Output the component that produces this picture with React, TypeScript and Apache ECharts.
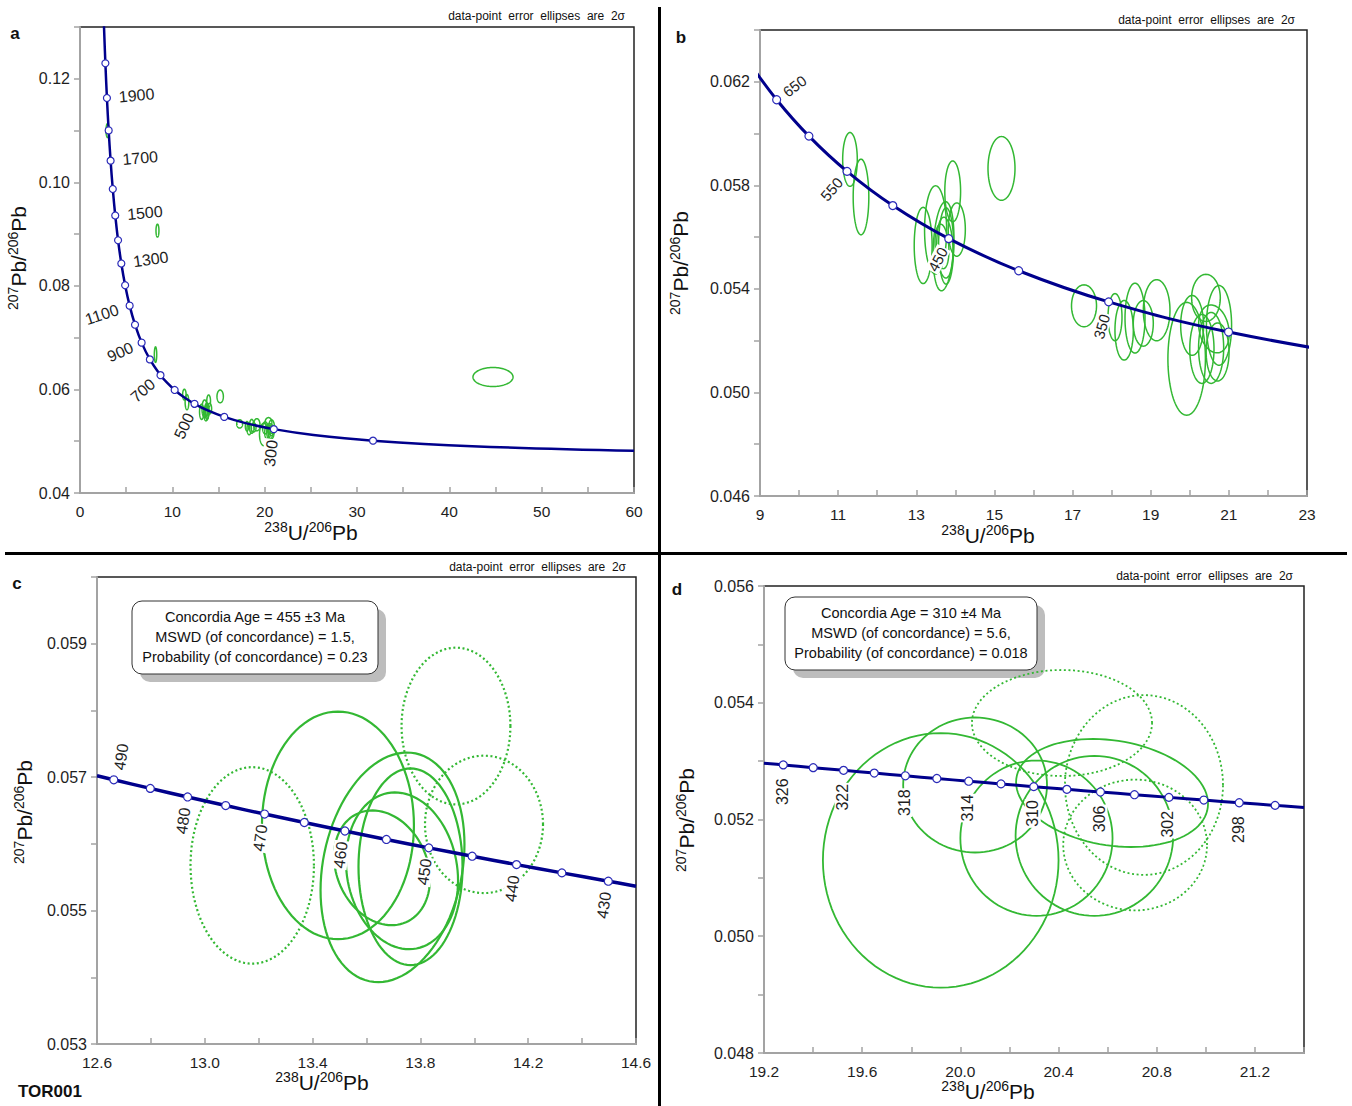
import React, { useEffect, useRef } from 'react';
import * as echarts from 'echarts';

const FONT = "'Liberation Sans', Arial, Helvetica, sans-serif";
const GREEN = '#33b833';
const BLUE = '#00008c';
const MARK = '#2a2ab8';
const TEXT = '#1e1e1e';

// ---- Concordia points: [age (Ma), 238U/206Pb, 207Pb/206Pb] ----
const concordiaA: number[][] = [
  [106.6, 60.0, 0.048148], [150, 42.478, 0.049045], [200, 31.735, 0.050109], [250, 25.289, 0.051204],
  [300, 20.992, 0.052333], [350, 17.923, 0.053499], [400, 15.621, 0.0547], [450, 13.831, 0.05594],
  [500, 12.399, 0.057218], [550, 11.228, 0.058539], [600, 10.252, 0.059901], [650, 9.426, 0.061306],
  [700, 8.718, 0.062757], [800, 7.568, 0.065799], [900, 6.674, 0.069042], [1000, 5.959, 0.0725],
  [1100, 5.375, 0.076187], [1200, 4.888, 0.080122], [1300, 4.476, 0.084322], [1400, 4.123, 0.088807],
  [1500, 3.817, 0.093597], [1600, 3.55, 0.098717], [1700, 3.314, 0.104187], [1800, 3.105, 0.110034],
  [1900, 2.917, 0.116293], [2000, 2.749, 0.122986], [2100, 2.597, 0.130151],
];
const concordiaB: number[][] = [
  [700, 8.718, 0.062757], [650, 9.426, 0.061306], [600, 10.252, 0.059901], [550, 11.228, 0.058539],
  [500, 12.399, 0.057218], [450, 13.831, 0.05594], [400, 15.621, 0.0547], [350, 17.923, 0.053499],
  [300, 20.992, 0.052333], [250, 25.289, 0.051204],
];
const concordiaC: number[][] = [
  [492.3, 12.6, 0.05702], [490, 12.6623, 0.05696], [485, 12.7978, 0.056831], [480, 12.9362, 0.056703],
  [475, 13.0775, 0.056574], [470, 13.2218, 0.056447], [465, 13.3693, 0.05632], [460, 13.5199, 0.056193],
  [455, 13.6738, 0.056066], [450, 13.8312, 0.05594], [445, 13.9921, 0.055815], [440, 14.1566, 0.055689],
  [435, 14.325, 0.055565], [430, 14.4973, 0.05544], [427.0, 14.6, 0.055366],
];
const concordiaD: number[][] = [
  [327.3, 19.2, 0.052965], [326, 19.2785, 0.052935], [324, 19.4005, 0.052888], [322, 19.5241, 0.052842],
  [320, 19.6492, 0.052795], [318, 19.7759, 0.052749], [316, 19.9041, 0.052702], [314, 20.034, 0.052656],
  [312, 20.1656, 0.05261], [310, 20.2989, 0.052563], [308, 20.4339, 0.052517], [306, 20.5707, 0.052471],
  [304, 20.7093, 0.052425], [302, 20.8497, 0.052379], [300, 20.9919, 0.052333], [298, 21.1361, 0.052287],
  [296, 21.2823, 0.052242], [294.4, 21.4, 0.052205],
];

// ---- Marked and labelled ages ----
const markedA = [200, 300, 400, 500, 600, 700, 800, 900, 1000, 1100, 1200, 1300, 1400, 1500, 1600, 1700, 1800, 1900, 2000];
const labelledA = [1900, 1700, 1500, 1300, 1100, 900, 700, 500, 300];
const markedB = [650, 600, 550, 500, 450, 400, 350, 300];
const labelledB = [650, 550, 450, 350];
const markedC = [490, 485, 480, 475, 470, 465, 460, 455, 450, 445, 440, 435, 430];
const labelledC = [490, 480, 470, 460, 450, 440, 430];
const markedD = [326, 324, 322, 320, 318, 316, 314, 312, 310, 308, 306, 304, 302, 300, 298, 296];
const labelledD = [326, 322, 318, 314, 310, 306, 302, 298];

// ---- Error ellipses: [centre 238U/206Pb, centre 207Pb/206Pb, half-width x, half-height y, correlation, excluded] ----
const ellipses450: number[][] = [
  [13.176, 0.055677, 0.229, 0.001473, 0, 1],
  [13.932, 0.057766, 0.202, 0.001175, 0, 1],
  [14.036, 0.056292, 0.219, 0.00103, 0, 1],
  [13.494, 0.056277, 0.282, 0.001706, 0, 0],
  [13.6965, 0.055648, 0.267, 0.001721, 0.2, 0],
  [13.7633, 0.055656, 0.193, 0.001474, 0, 0],
  [13.7317, 0.055596, 0.208, 0.001175, -0.125, 0],
  [13.6575, 0.055641, 0.178, 0.00086, -0.2, 0],
];
const ellipses300: number[][] = [
  [19.92, 0.0513, 0.48, 0.00218, 0, 0],
  [20.06, 0.052591, 0.293, 0.001156, 0, 0],
  [20.31, 0.05168, 0.31, 0.00133, 0, 0],
  [20.546, 0.05172, 0.321, 0.00137, 0, 0],
  [20.618, 0.052454, 0.391, 0.000925, -0.2, 0],
  [20.414, 0.053653, 0.367, 0.000908, 0, 1],
  [20.748, 0.052591, 0.322, 0.00154, 0, 1],
  [20.712, 0.051563, 0.293, 0.00112, 0, 1],
];
const ellipses350: number[][] = [
  [17.293, 0.053346, 0.32, 0.00081, 0, 0],
  [18.086, 0.052908, 0.179, 0.00091, 0, 0],
  [18.32, 0.0524, 0.235, 0.00115, 0, 0],
  [18.598, 0.052869, 0.256, 0.00135, 0, 0],
  [18.81, 0.052669, 0.256, 0.00088, 0, 0],
  [19.152, 0.053177, 0.341, 0.00118, 0, 0],
];
const ellipsesOther: number[][] = [
  [11.303, 0.059, 0.187, 0.00104, 0, 0],
  [11.585, 0.05755, 0.2, 0.00146, 0, 0],
  [15.181, 0.058654, 0.3455, 0.00123, 0, 0],
  [2.98, 0.11, 0.16, 0.00135, 0, 0],
  [8.39, 0.09067, 0.16, 0.00125, 0, 0],
  [8.18, 0.06673, 0.13, 0.0015, 0, 0],
  [44.73, 0.0624, 2.17, 0.00183, 0, 0],
];

// ---- Axis ticks and tick labels ----
const ticksAx = [0, 5, 10, 15, 20, 25, 30, 35, 40, 45, 50, 55, 60];
const labelsAx = [0, 10, 20, 30, 40, 50, 60];
const ticksAy = [0.04, 0.05, 0.06, 0.07, 0.08, 0.09, 0.1, 0.11, 0.12, 0.13];
const labelsAy = [0.04, 0.06, 0.08, 0.1, 0.12];
const ticksBx = [9, 10, 11, 12, 13, 14, 15, 16, 17, 18, 19, 20, 21, 22, 23];
const labelsBx = [9, 11, 13, 15, 17, 19, 21, 23];
const ticksBy = [0.046, 0.048, 0.05, 0.052, 0.054, 0.056, 0.058, 0.06, 0.062, 0.064];
const labelsBy = [0.046, 0.05, 0.054, 0.058, 0.062];
const ticksCx = [12.6, 12.8, 13.0, 13.2, 13.4, 13.6, 13.8, 14.0, 14.2, 14.4, 14.6];
const labelsCx = [12.6, 13.0, 13.4, 13.8, 14.2, 14.6];
const ticksCy = [0.053, 0.054, 0.055, 0.056, 0.057, 0.058, 0.059, 0.06];
const labelsCy = [0.053, 0.055, 0.057, 0.059];
const ticksDx = [19.2, 19.4, 19.6, 19.8, 20.0, 20.2, 20.4, 20.6, 20.8, 21.0, 21.2, 21.4];
const labelsDx = [19.2, 19.6, 20.0, 20.4, 20.8, 21.2];
const ticksDy = [0.048, 0.049, 0.05, 0.051, 0.052, 0.053, 0.054, 0.055, 0.056];
const labelsDy = [0.048, 0.05, 0.052, 0.054, 0.056];

// label placement styles: age -> [rotate deg, distance along text (+ right / - left), perpendicular offset]
const labelStyleA: Record<number, number[]> = {
  1900: [5, 11, 0], 1700: [5, 11, 0], 1500: [5, 11, 0], 1300: [8, 11, 0],
  1100: [18, -11, 0], 900: [24, -9, 0], 700: [41, -9, 0], 500: [65, -10, 0], 300: [83, -10, 0],
};
const labelStyleB: Record<number, number[]> = { 650: [37, 9, 0], 550: [49, -10, 0], 450: [62, -10, 0], 350: [74, -12, 0] };
const labelStyleC: Record<number, number[]> = {
  490: [82, 9.5, 4], 480: [82, -10, -1], 470: [82, -10, -1], 460: [82, -10, -1], 450: [82, -10, -1], 440: [82, -10, -1], 430: [82, -10, -1],
};
const labelStyleD: Record<number, number[]> = {
  326: [90, -12.5, -1], 322: [90, -12.5, -1], 318: [90, -12.5, -1], 314: [90, -12.5, -1],
  310: [90, -12.5, -1], 306: [90, -12.5, -1], 302: [90, -12.5, -1], 298: [90, -12.5, -1],
};

const allEllipses = [...ellipses450, ...ellipses300, ...ellipses350, ...ellipsesOther];

function ellipseRenderer(lineWidth: number, showDotted: boolean) {
  return (params: any, api: any) => {
    const cx = api.value(0), cy = api.value(1), sx = api.value(2), sy = api.value(3), rho = api.value(4);
    const dotted = showDotted && api.value(5) === 1;
    const k = Math.sqrt(Math.max(0, 1 - rho * rho));
    const pts: number[][] = [];
    const n = 96;
    for (let i = 0; i < n; i++) {
      const t = (i / n) * Math.PI * 2;
      pts.push(api.coord([cx + sx * Math.cos(t), cy + sy * (rho * Math.cos(t) + k * Math.sin(t))]));
    }
    return {
      type: 'polygon',
      shape: { points: pts },
      silent: true,
      style: { fill: 'none', stroke: GREEN, lineWidth, lineDash: dotted ? [2, 2.6] : null },
    };
  };
}

function markerItems(curve: number[][], marked: number[], labelled: number[], styles: Record<number, number[]>, fontSize: number) {
  return curve
    .filter((p) => marked.indexOf(p[0]) >= 0)
    .map((p) => {
      const age = p[0];
      const st = styles[age];
      if (labelled.indexOf(age) >= 0 && st) {
        return {
          value: [p[1], p[2]],
          label: {
            show: true,
            position: 'inside',
            formatter: String(age),
            rotate: st[0],
            align: st[1] >= 0 ? 'left' : 'right',
            verticalAlign: 'middle',
            offset: [st[1], st[2]],
            color: TEXT,
            fontSize,
            fontFamily: FONT,
            backgroundColor: '#ffffff',
            padding: [0, 1],
          },
        };
      }
      return { value: [p[1], p[2]], label: { show: false } };
    });
}

function xAxis(gridIndex: number, min: number, max: number, ticks: number[], labels: number[], dec: number) {
  return {
    type: 'value', gridIndex, min, max,
    axisLine: { show: true, onZero: false, lineStyle: { color: '#a3a3a3', width: 2 } },
    axisTick: { show: true, inside: true, length: 6, customValues: ticks, lineStyle: { color: '#a3a3a3', width: 1.5 } },
    axisLabel: { show: true, customValues: labels, margin: 10, fontSize: 15.5, fontFamily: FONT, color: TEXT, formatter: (v: number) => v.toFixed(dec) },
    splitLine: { show: false },
  };
}
function yAxis(gridIndex: number, min: number, max: number, ticks: number[], labels: number[], dec: number) {
  return {
    type: 'value', gridIndex, min, max,
    axisLine: { show: true, onZero: false, lineStyle: { color: '#a3a3a3', width: 2 } },
    axisTick: { show: true, inside: false, length: 6, customValues: ticks, lineStyle: { color: '#a3a3a3', width: 1.5 } },
    axisLabel: { show: true, customValues: labels, margin: 10, fontSize: 16, fontFamily: FONT, color: TEXT, formatter: (v: number) => v.toFixed(dec) },
    splitLine: { show: false },
  };
}

function axisName(kind: 'x' | 'y', x: number, y: number) {
  const text = kind === 'x' ? '{s|238}{n|U/}{s|206}{n|Pb}' : '{s|207}{n|Pb/}{s|206}{n|Pb}';
  return {
    type: 'text', x, y, rotation: kind === 'y' ? Math.PI / 2 : 0, silent: true,
    style: {
      text, align: 'center', verticalAlign: 'middle',
      rich: {
        s: { fontSize: 14, fontFamily: FONT, fill: '#111', verticalAlign: 'top' },
        n: { fontSize: 21, fontFamily: FONT, fill: '#111', lineHeight: 24 },
      },
    },
  };
}

function textEl(text: string, x: number, y: number, size: number, align: string, bold = false) {
  return {
    type: 'text', x, y, silent: true,
    style: { text, fill: '#111', fontSize: size, fontFamily: FONT, fontWeight: bold ? 'bold' : 'normal', align, verticalAlign: 'middle' },
  };
}

function infoBox(x: number, y: number, w: number, h: number, lines: string[]) {
  const cx = x + w / 2;
  return [
    { type: 'rect', silent: true, shape: { x: x + 8, y: y + 8, width: w, height: h, r: 10 }, style: { fill: '#bdbdbd' } },
    { type: 'rect', silent: true, shape: { x, y, width: w, height: h, r: 10 }, style: { fill: '#ffffff', stroke: '#333', lineWidth: 1 } },
    ...lines.map((t, i) => textEl(t, cx, y + 16 + i * 20, 14.5, 'center')),
  ];
}

export default function App() {
  const ref = useRef<HTMLDivElement>(null);
  useEffect(() => {
    document.body.style.margin = '0';
    if (!ref.current) return;
    const chart = echarts.init(ref.current, undefined, { renderer: 'svg' });
    const panels = [
      { curve: concordiaA, ell: allEllipses, marked: markedA, labelled: labelledA, st: labelStyleA, lw: 1.5, dotted: false, cw: 2.5, ms: 7, fs: 16 },
      { curve: concordiaB, ell: allEllipses, marked: markedB, labelled: labelledB, st: labelStyleB, lw: 1.5, dotted: false, cw: 3, ms: 8, fs: 15 },
      { curve: concordiaC, ell: ellipses450, marked: markedC, labelled: labelledC, st: labelStyleC, lw: 2.2, dotted: true, cw: 3.5, ms: 8, fs: 16 },
      { curve: concordiaD, ell: ellipses300, marked: markedD, labelled: labelledD, st: labelStyleD, lw: 1.8, dotted: true, cw: 3, ms: 8, fs: 16 },
    ];
    const series: any[] = [];
    panels.forEach((p, i) => {
      series.push({
        type: 'custom', xAxisIndex: i, yAxisIndex: i, clip: true, z: 1, silent: true,
        renderItem: ellipseRenderer(p.lw, p.dotted), data: p.ell, encode: { x: 0, y: 1 },
      });
      series.push({
        type: 'line', xAxisIndex: i, yAxisIndex: i, clip: true, z: 3, silent: true,
        data: p.curve.map((c) => [c[1], c[2]]), smooth: 0.4, symbol: 'none',
        lineStyle: { color: BLUE, width: p.cw },
      });
      series.push({
        type: 'scatter', xAxisIndex: i, yAxisIndex: i, z: 4, silent: true,
        symbol: 'circle', symbolSize: p.ms,
        itemStyle: { color: '#ffffff', borderColor: MARK, borderWidth: 1.2, opacity: 1 },
        data: markerItems(p.curve, p.marked, p.labelled, p.st, p.fs),
      });
    });

    const grid = (left: number, top: number, width: number, height: number) => ({
      left, top, width, height, show: true, borderColor: '#222', borderWidth: 1.5, backgroundColor: 'transparent',
    });

    const option: any = {
      animation: false,
      backgroundColor: '#ffffff',
      grid: [grid(80, 27, 554, 466), grid(760, 30, 547, 466), grid(97, 577, 539, 467), grid(764, 586, 540, 467)],
      xAxis: [
        xAxis(0, 0, 60, ticksAx, labelsAx, 0),
        xAxis(1, 9, 23, ticksBx, labelsBx, 0),
        xAxis(2, 12.6, 14.6, ticksCx, labelsCx, 1),
        xAxis(3, 19.2, 21.4, ticksDx, labelsDx, 1),
      ],
      yAxis: [
        yAxis(0, 0.04, 0.13, ticksAy, labelsAy, 2),
        yAxis(1, 0.046, 0.064, ticksBy, labelsBy, 3),
        yAxis(2, 0.053, 0.06, ticksCy, labelsCy, 3),
        yAxis(3, 0.048, 0.056, ticksDy, labelsDy, 3),
      ],
      series,
      graphic: [
        { type: 'rect', silent: true, shape: { x: 658, y: 7, width: 3, height: 1099 }, style: { fill: '#000' } },
        { type: 'rect', silent: true, shape: { x: 5, y: 552, width: 1342, height: 3 }, style: { fill: '#000' } },
        textEl('a', 15, 33, 17, 'center', true),
        textEl('b', 681, 37, 17, 'center', true),
        textEl('c', 17, 583, 17, 'center', true),
        textEl('d', 677, 589, 17, 'center', true),
        textEl('TOR001', 18, 1091, 17, 'left', true),
        textEl('data-point  error  ellipses  are  2σ', 625, 16, 12, 'right'),
        textEl('data-point  error  ellipses  are  2σ', 1295, 20, 12, 'right'),
        textEl('data-point  error  ellipses  are  2σ', 626, 567, 12, 'right'),
        textEl('data-point  error  ellipses  are  2σ', 1293, 576, 12, 'right'),
        axisName('y', 18, 258), axisName('x', 311, 532),
        axisName('y', 680, 263), axisName('x', 988, 535),
        axisName('y', 24, 812), axisName('x', 322, 1082),
        axisName('y', 686, 820), axisName('x', 988, 1091),
        ...infoBox(132, 601, 246, 73, ['Concordia Age = 455 ±3 Ma', 'MSWD (of concordance) = 1.5,', 'Probability (of concordance) = 0.23']),
        ...infoBox(785, 597, 252, 73, ['Concordia Age = 310 ±4 Ma', 'MSWD (of concordance) = 5.6,', 'Probability (of concordance) = 0.018']),
      ],
    };
    chart.setOption(option);
    return () => chart.dispose();
  }, []);
  return <div ref={ref} style={{ width: 1352, height: 1106 }} />;
}
